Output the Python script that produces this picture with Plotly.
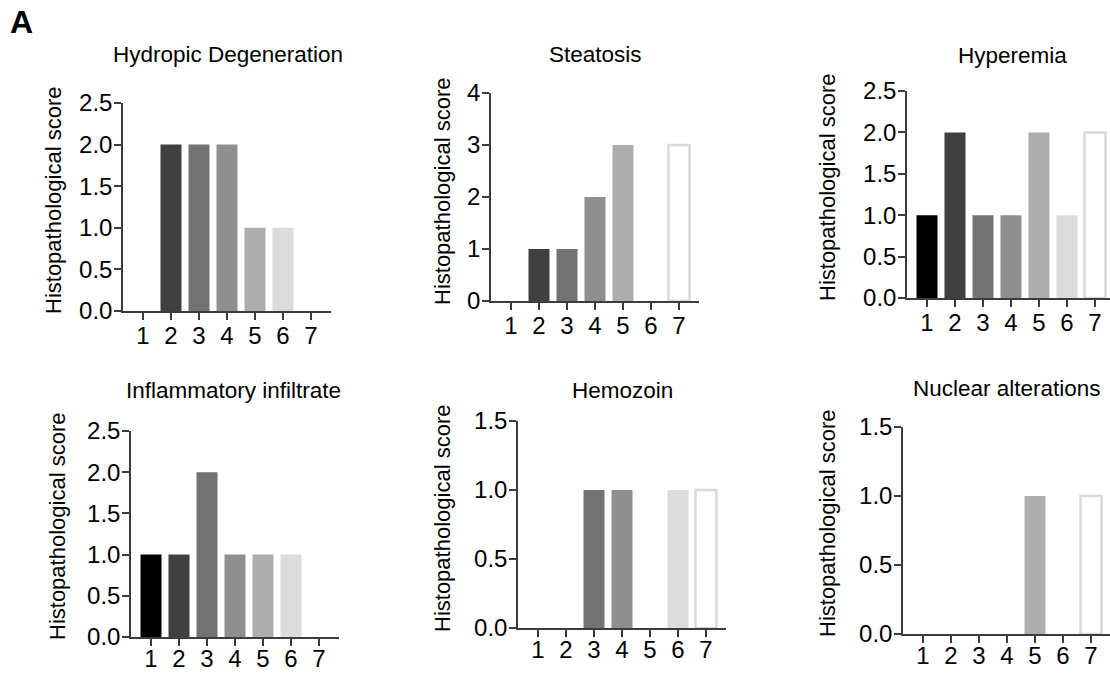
import plotly.graph_objects as go

W, H = 1110, 673

groups = [1, 2, 3, 4, 5, 6, 7]
titles = ["Hydropic Degeneration", "Steatosis", "Hyperemia",
          "Inflammatory infiltrate", "Hemozoin", "Nuclear alterations"]
hydropic = [0, 2, 2, 2, 1, 1, 0]
steatosis = [0, 1, 1, 2, 3, 0, 3]
hyperemia = [1, 2, 1, 1, 2, 1, 2]
inflammatory = [1, 1, 2, 1, 1, 1, 0]
hemozoin = [0, 0, 1, 1, 0, 1, 1]
nuclear = [0, 0, 0, 0, 1, 0, 1]
series = [hydropic, steatosis, hyperemia, inflammatory, hemozoin, nuclear]
y_max = [2.5, 4, 2.5, 2.5, 1.5, 1.5]
y_step = [0.5, 1, 0.5, 0.5, 0.5, 0.5]
y_fmt = [".1f", "d", ".1f", ".1f", ".1f", ".1f"]
y_label = "Histopathological score"

fill_colors = ["#000000", "#404040", "#737373", "#8f8f8f", "#adadad", "#dcdcdc", "#ffffff"]
edge_colors = ["#000000", "#404040", "#737373", "#8f8f8f", "#adadad", "#dcdcdc", "#d9d9d9"]
edge_widths = [0, 0, 0, 0, 0, 0, 2.5]

# layout in pixels: (x tick1 pixel, y top pixel, y zero pixel)
spacing = 28.0
pad = 20.0
panels_px = [
    (143, 103, 311),
    (511, 93, 301),
    (927, 91, 298),
    (151, 431, 637),
    (538, 421, 628),
    (923, 427, 634),
]
xlabel_standoff = [-5, -5, -5, -8, -8, -8]
title_px = [(228, 54), (595, 54), (1012, 55), (233, 390), (622, 390), (1007, 389)]
ytitle_px = [(53, 201), (442, 192), (827, 188), (57, 527), (442, 519), (827, 524)]

def px(x):
    return x / W

def py(y):
    return 1 - y / H

fig = go.Figure()
axis_color = "#3c3c3c"
font_fam = "Liberation Sans, Arial, sans-serif"
layout = dict(
    template="none",
    width=W, height=H, margin=dict(l=0, r=0, t=0, b=0, pad=0, autoexpand=False),
    paper_bgcolor="white", plot_bgcolor="white", showlegend=False,
    font=dict(family=font_fam, color="black", size=22),
)
annotations = []
for i, (vals, (t1, ytop, yzero)) in enumerate(zip(series, panels_px)):
    n = i + 1
    xa = "x" if n == 1 else f"x{n}"
    ya = "y" if n == 1 else f"y{n}"
    x0 = t1 - pad
    x1 = t1 + 6 * spacing + pad
    r0 = 1 - pad / spacing
    r1 = 7 + pad / spacing
    if x1 > W:
        r1 = 7 + (W - (t1 + 6 * spacing)) / spacing
        x1 = W
    widths = [w if v > 0 else 0 for v, w in zip(vals, edge_widths)]
    fig.add_trace(go.Bar(
        x=groups, y=vals, xaxis=xa, yaxis=ya, width=0.75,
        marker=dict(color=fill_colors, line=dict(color=edge_colors, width=widths)),
        hoverinfo="skip",
    ))
    nticks = int(round(y_max[i] / y_step[i]))
    tv = [k * y_step[i] for k in range(nticks + 1)]
    layout["xaxis" if n == 1 else f"xaxis{n}"] = dict(
        domain=[px(x0), px(x1)], range=[r0, r1], anchor=ya, automargin=False,
        tickmode="array", tickvals=groups, ticktext=[str(g) for g in groups],
        showline=True, linecolor=axis_color, linewidth=1.5,
        ticks="outside", ticklen=7, tickwidth=1.5, tickcolor=axis_color,
        showgrid=False, zeroline=False, fixedrange=True,
        ticklabelstandoff=xlabel_standoff[i],
        tickfont=dict(size=24, color="black"),
    )
    layout["yaxis" if n == 1 else f"yaxis{n}"] = dict(
        domain=[py(yzero), py(ytop)], range=[0, y_max[i]], anchor=xa, automargin=False,
        tickmode="array", tickvals=tv, tickformat=y_fmt[i],
        showline=True, linecolor=axis_color, linewidth=1.5,
        ticks="outside", ticklen=7, tickwidth=1.5, tickcolor=axis_color,
        showgrid=False, zeroline=False, fixedrange=True, ticklabelstandoff=-3,
        tickfont=dict(size=24, color="black"),
    )
    tx, ty = title_px[i]
    annotations.append(dict(text=titles[i], x=px(tx), y=py(ty), xref="paper", yref="paper",
                            xanchor="center", yanchor="middle", showarrow=False,
                            font=dict(size=22.5, color="black")))
    ax_, ay_ = ytitle_px[i]
    annotations.append(dict(text=y_label, x=px(ax_), y=py(ay_), xref="paper", yref="paper",
                            xanchor="center", yanchor="middle", showarrow=False, textangle=-90,
                            font=dict(size=22, color="black")))

annotations.append(dict(text="<b>A</b>", x=px(21), y=py(22), xref="paper", yref="paper",
                        xanchor="center", yanchor="middle", showarrow=False,
                        font=dict(size=32, color="black")))
layout["annotations"] = annotations
fig.update_layout(**layout)
fig.write_html("out.html", config={"displayModeBar": False},
               post_script="document.body.style.margin='0px';")
